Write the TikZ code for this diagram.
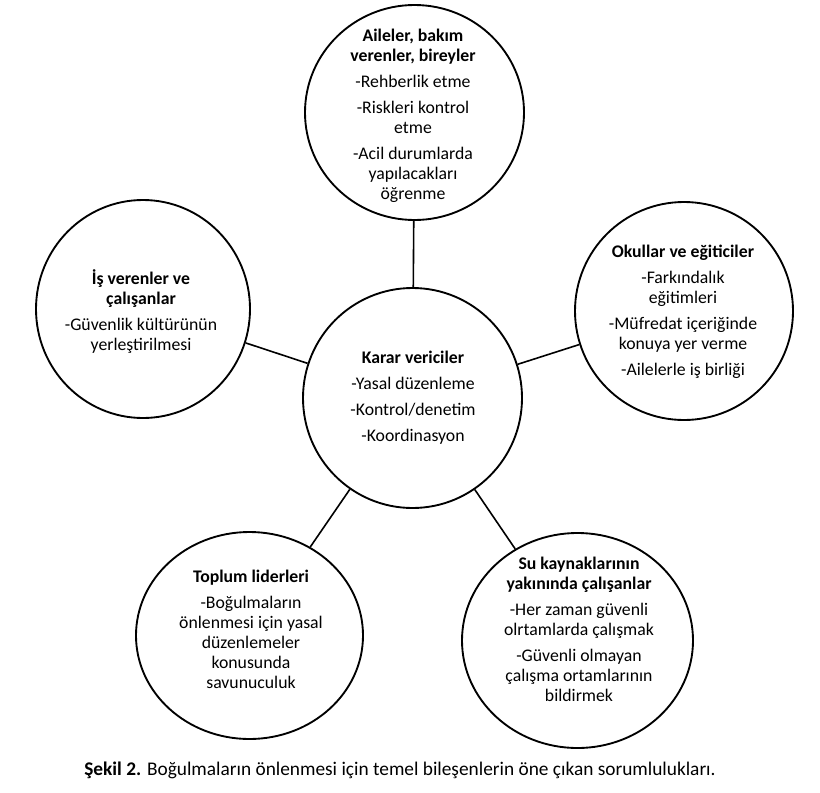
\documentclass[tikz,border=0pt]{standalone}
\usepackage{fontspec}
\setmainfont{Carlito}
\usetikzlibrary{shapes.geometric}
\begin{document}
\begin{tikzpicture}[x=0.75pt,y=-0.75pt,
  bubble/.style={draw,ellipse,line width=1.4pt,inner sep=0pt},
  link/.style={line width=1.2pt},
  txt/.style={align=center,inner sep=0pt,font=\fontsize{13.3}{15}\selectfont},
  captxt/.style={inner sep=0pt,font=\fontsize{14.5}{17}\selectfont}]
\useasboundingbox (0,0) rectangle (820,792);
% circles
\node[bubble,minimum width=164.25pt,minimum height=161.25pt] (top) at (414.5,112.5) {};
\node[bubble,minimum width=164.25pt,minimum height=165pt] (cen) at (412.5,398) {};
\node[bubble,minimum width=160.5pt,minimum height=163.5pt] (lft) at (143,309) {};
\node[bubble,minimum width=163.5pt,minimum height=163.5pt] (rgt) at (684,311) {};
\node[bubble,minimum width=170.25pt,minimum height=155.25pt] (bl) at (249.5,635.5) {};
\node[bubble,minimum width=173.25pt,minimum height=161.25pt] (br) at (577.5,640.5) {};
% connectors
\draw[link] (cen) -- (top);
\draw[link] (cen) -- (lft);
\draw[link] (cen) -- (rgt);
\draw[link] (cen) -- (bl);
\draw[link] (cen) -- (br);
% texts
\node[txt] (topt) at (413,115.5) {\textbf{Aileler, bakım}\\\textbf{verenler, bireyler}\\[4.5pt]-Rehberlik etme\\[4.5pt]-Riskleri kontrol\\etme\\[4.5pt]-Acil durumlarda\\yapılacakları\\öğrenme};
\node[txt] (cent) at (413,398) {\textbf{Karar vericiler}\\[4.5pt]-Yasal düzenleme\\[4.5pt]-Kontrol/denetim\\[4.5pt]-Koordinasyon};
\node[txt] (lftt) at (141,311.5) {\textbf{İş verenler ve}\\\textbf{çalışanlar}\\[4.5pt]-Güvenlik kültürünün\\yerleştirilmesi};
\node[txt] (rgtt) at (683,311.5) {\textbf{Okullar ve eğiticiler}\\[4.5pt]-Farkındalık\\eğitimleri\\[4.5pt]-Müfredat içeriğinde\\konuya yer verme\\[4.5pt]-Ailelerle iş birliği};
\node[txt] (blt) at (251,629.5) {\textbf{Toplum liderleri}\\[4.5pt]-Boğulmaların\\önlenmesi için yasal\\düzenlemeler\\konusunda\\savunuculuk};
\node[txt] (brt) at (579,629) {\textbf{Su kaynaklarının}\\\textbf{yakınında çalışanlar}\\[4.5pt]-Her zaman güvenli\\olrtamlarda çalışmak\\[4.5pt]-Güvenli olmayan\\çalışma ortamlarının\\bildirmek};
% caption
\node[captxt] (cap) at (400,770) {\textbf{Şekil 2.} Boğulmaların önlenmesi için temel bileşenlerin öne çıkan sorumlulukları.};
\end{tikzpicture}
\end{document}
